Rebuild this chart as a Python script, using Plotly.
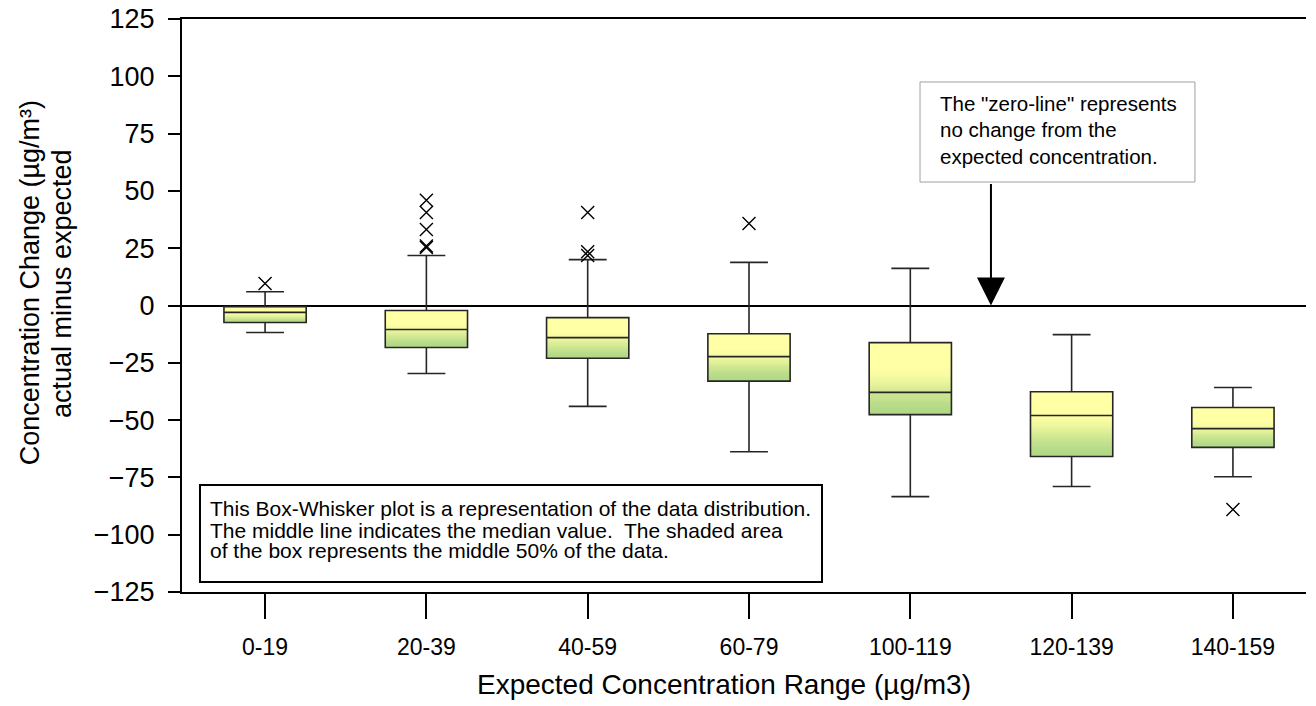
import plotly.graph_objects as go

# ---- data ----
categories = ["0-19", "20-39", "40-59", "60-79", "100-119", "120-139", "140-159"]
q1 = [-7.4, -18.3, -23.0, -33.0, -47.6, -65.9, -61.9]
median = [-3.0, -10.5, -14.0, -22.3, -37.9, -48.0, -53.7]
q3 = [-0.5, -2.2, -5.3, -12.3, -16.2, -37.6, -44.5]
lower_whisker = [-11.8, -29.7, -44.0, -63.8, -83.4, -79.0, -74.7]
upper_whisker = [6.0, 21.8, 20.0, 18.8, 16.2, -12.7, -35.8]

outlier_cat = ["0-19", "20-39", "20-39", "20-39", "20-39", "20-39",
               "40-59", "40-59", "40-59", "60-79", "140-159"]
outlier_val = [9.6, 45.9, 40.6, 33.2, 25.3, 26.0,
               40.6, 23.5, 21.8, 35.8, -89.0]

y_ticks = [-125, -100, -75, -50, -25, 0, 25, 50, 75, 100, 125]

y_title_lines = ["Concentration Change (µg/m³)", "actual minus expected"]
x_title = "Expected Concentration Range (µg/m3)"
note_lines = ["The \"zero-line\" represents", "no change from the",
              "expected concentration."]
info_lines = ["This Box-Whisker plot is a representation of the data distribution.",
              "The middle line indicates the median value.  The shaded area",
              "of the box represents the middle 50% of the data."]

FONT = "Liberation Sans, Arial, sans-serif"
BOX_W = 0.51
N_SLICES = 40
YELLOW = (255, 255, 165)
GREEN = (176, 216, 134)

fig = go.Figure()

# gradient fill for each box: horizontal slices from q1 to q3
for i in range(N_SLICES):
    t = 1 - (i + 0.5) / N_SLICES        # 0 at top, 1 at bottom
    s = max(0.0, min(1.0, (t - 0.3) / 0.7))
    s = s * s * (3 - 2 * s)
    col = tuple(round(YELLOW[k] + (GREEN[k] - YELLOW[k]) * s) for k in range(3))
    heights = [(b - a) / N_SLICES for a, b in zip(q1, q3)]
    bases = [a + h * i for a, h in zip(q1, heights)]
    fig.add_trace(go.Bar(
        x=categories, y=[h * 1.08 for h in heights], base=bases,
        width=BOX_W, marker=dict(color="rgb(%d,%d,%d)" % col, line=dict(width=0)),
        hoverinfo="skip", showlegend=False,
    ))

fig.add_trace(go.Box(
    x=categories, q1=q1, median=median, q3=q3,
    lowerfence=lower_whisker, upperfence=upper_whisker,
    width=BOX_W, whiskerwidth=0.46, boxpoints=False,
    fillcolor="rgba(0,0,0,0)", line=dict(color="#262626", width=1.6),
    showlegend=False,
))

fig.add_trace(go.Scatter(
    x=outlier_cat, y=outlier_val, mode="markers",
    marker=dict(symbol="x-thin", size=13, line=dict(color="black", width=1.4)),
    showlegend=False,
))

fig.update_layout(
    width=1300, height=698,
    margin=dict(l=174, r=2, t=11, b=114),
    paper_bgcolor="white", plot_bgcolor="white",
    barmode="overlay", boxmode="overlay",
    font=dict(family=FONT, color="black"),
    showlegend=False,
)

fig.update_xaxes(
    range=[-0.515, 6.453], showgrid=False, zeroline=False, automargin=False,
    showline=True, linecolor="black", linewidth=2, mirror=True,
    ticks="outside", ticklen=25, tickcolor="black", tickwidth=1.5,
    tickfont=dict(size=23, family=FONT), ticklabelstandoff=8,
)

fig.update_yaxes(
    range=[-125, 125], tickvals=y_ticks, showgrid=False, automargin=False,
    zeroline=True, zerolinecolor="black", zerolinewidth=2,
    showline=True, linecolor="black", linewidth=2,
    ticks="outside", ticklen=12, tickcolor="black", tickwidth=1.5,
    tickfont=dict(size=27, family=FONT), ticklabelstandoff=8,
    ticklabeloverflow="allow",
)

# axis titles
for xp, line in zip([-0.1352, -0.1068], y_title_lines):
    fig.add_annotation(xref="paper", yref="paper", x=xp, y=0.539,
                       xanchor="center", yanchor="middle", textangle=-90,
                       showarrow=False, text=line,
                       font=dict(size=27, family=FONT, color="black"))
fig.add_annotation(xref="paper", yref="paper", x=0.4822, y=-0.1623,
                   xanchor="center", yanchor="middle", showarrow=False,
                   text=x_title, font=dict(size=28, family=FONT, color="black"))

# note box top-right with arrow pointing to zero line
fig.add_shape(type="rect", xref="paper", yref="paper",
              x0=0.6566, x1=0.9012, y0=0.7155, y1=0.8901,
              line=dict(color="#a0a0a0", width=1), fillcolor="white", layer="above")
for yp, line in zip([0.8517, 0.8063, 0.7592], note_lines):
    fig.add_annotation(xref="paper", yref="paper", x=0.6726, y=yp,
                       xanchor="left", yanchor="middle", showarrow=False,
                       text=line, font=dict(size=20.5, family=FONT, color="black"))
fig.add_annotation(
    x=4.5, y=0, ax=4.5, ay=53.7, xref="x", yref="y", axref="x", ayref="y",
    text="", showarrow=True, arrowhead=2, arrowsize=2.8, arrowwidth=2,
    arrowcolor="black", standoff=0,
)

# explanation box bottom-left
fig.add_shape(type="rect", xref="paper", yref="paper",
              x0=0.0160, x1=0.5694, y0=0.0175, y1=0.1867,
              line=dict(color="black", width=2), fillcolor="white", layer="above")
for yp, line in zip([0.1449, 0.1082, 0.0716], info_lines):
    fig.add_annotation(xref="paper", yref="paper", x=0.0231, y=yp,
                       xanchor="left", yanchor="middle", showarrow=False,
                       text=line, font=dict(size=21, family=FONT, color="black"))

fig.write_html("out.html")
